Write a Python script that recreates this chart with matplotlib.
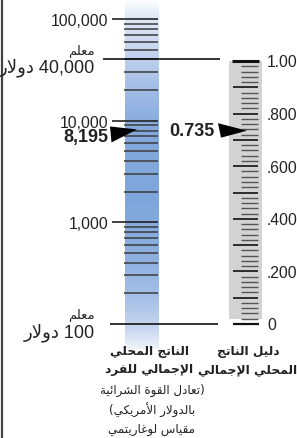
import re
import numpy as np
import matplotlib
matplotlib.use('Agg')
import matplotlib.pyplot as plt
from matplotlib.patches import Polygon
from matplotlib.colors import to_rgb

# Data
gdp_major = [1000, 10000, 100000]
gdp_major_labels = ['1,000', '10,000', '100,000']
gdp_goalposts = [100, 40000]
gdp_goalpost_labels = ['100 دولار', '40,000 دولار']
gdp_value = 8195
gdp_value_label = '8,195'
hdi_labels_at = [0.0, 0.2, 0.4, 0.6, 0.8, 1.0]
hdi_labels = ['0', '.200', '.400', '.600', '.800', '1.00']
hdi_value = 0.735
hdi_value_label = '0.735'

goalpost_word = 'معلم'
gdp_title = ['الناتج المحلي', 'الإجمالي للفرد']
gdp_subtitle = ['(تعادل القوة الشرائية', 'بالدولار الأمريكي)', 'مقياس لوغاريتمي']
hdi_title = ['دليل الناتج', 'المحلي الإجمالي']


# Arabic shaping (matplotlib has no bidi / joining)
FORMS = {'ء': [0xFE80]}
for ch, base in zip('آأؤإاةدذرزوى', [0xFE81, 0xFE83, 0xFE85, 0xFE87, 0xFE8D, 0xFE93,
                                      0xFEA9, 0xFEAB, 0xFEAD, 0xFEAF, 0xFEED, 0xFEEF]):
    FORMS[ch] = [base, base + 1]
for ch, base in zip('ئبتثجحخسشصضطظعغفقكلمنهي',
                    [0xFE89, 0xFE8F, 0xFE95, 0xFE99, 0xFE9D, 0xFEA1, 0xFEA5, 0xFEB1,
                     0xFEB5, 0xFEB9, 0xFEBD, 0xFEC1, 0xFEC5, 0xFEC9, 0xFECD, 0xFED1,
                     0xFED5, 0xFED9, 0xFEDD, 0xFEE1, 0xFEE5, 0xFEE9, 0xFEF1]):
    FORMS[ch] = [base + k for k in range(4)]
LAM_ALEF = {'آ': 0xFEF5, 'أ': 0xFEF7, 'إ': 0xFEF9, 'ا': 0xFEFB}


def shape(text):
    out = []
    link = False
    i = 0
    while i < len(text):
        c = text[i]
        nxt = text[i + 1] if i + 1 < len(text) else None
        if c not in FORMS:
            out.append(c)
            link = False
            i += 1
            continue
        if c == 'ل' and nxt in LAM_ALEF:
            out.append(chr(LAM_ALEF[nxt] + (1 if link else 0)))
            link = False
            i += 2
            continue
        f = FORMS[c]
        can_next = len(f) == 4 and nxt in FORMS
        if len(f) == 1:
            code = f[0]
        elif link and can_next:
            code = f[3]
        elif link:
            code = f[1]
        elif can_next:
            code = f[2]
        else:
            code = f[0]
        out.append(chr(code))
        link = can_next
        i += 1
    return ''.join(out)


def ar(text):
    ''' Logical arabic string -> visual string '''
    tokens = re.findall(r'[0-9.,]+|[^0-9.,]+', shape(text))
    swap = str.maketrans('()', ')(')
    vis = []
    for tok in reversed(tokens):
        if re.match(r'[0-9]', tok):
            vis.append(tok)
        else:
            vis.append(tok[::-1].translate(swap))
    return ''.join(vis)


LATIN = ['Liberation Sans', 'DejaVu Sans']
ARAB = ['DejaVu Sans']
INK = '#222222'

W, H = 297, 439
fig = plt.figure(figsize=(W / 100, H / 100), dpi=100)

# pixel axes for background things
ax0 = fig.add_axes([0, 0, 1, 1])
ax0.axis('off')

# blue gradient bar
stops_y = [0, 15, 50, 90, 130, 200, 260, 300, 330, 350]
stops_c = ['#ffffff', '#e4ebf7', '#c5d5ef', '#a2bde6', '#84a9dc', '#7fa6db',
           '#8eb0e0', '#a7c1e7', '#c8d7ef', '#f2f5fb']
ys = np.arange(0, 350)
rgb = np.array([to_rgb(c) for c in stops_c])
img = np.stack([np.interp(ys, stops_y, rgb[:, k]) for k in range(3)], axis=-1)[:, None, :]
ax0.imshow(img, extent=[125, 159, 350, 0], aspect='auto', interpolation='bilinear')
ax0.set_xlim(0, W)
ax0.set_ylim(H, 0)

# left border
ax0.plot([2, 2], [0, H], color='#444444', lw=1.6)

# log scale axes: 100 at y=325px, 100,000 at y=20px
pxd = (325 - 20) / 3.0
axg = fig.add_axes([0, 0, 1, 1])
axg.set_yscale('log')
axg.set_xlim(0, W)
axg.set_ylim(10 ** (2 - (H - 325) / pxd), 10 ** (5 + 20 / pxd))
axg.axis('off')
axg.patch.set_visible(False)

minor = [m * 10 ** e for e in (2, 3, 4) for m in range(2, 10)]
axg.hlines(minor, 124, 158, color='#3c3c3c', lw=1.1)
axg.hlines(gdp_major, 112, 158, color='#222222', lw=1.2)
axg.hlines(gdp_goalposts[1], 103, 220, color='#111111', lw=1.2)
axg.hlines(gdp_goalposts[0], 110, 218, color='#111111', lw=1.2)

# HDI linear axes: 0 at y=325px, 1 at y=62px
axh = fig.add_axes([0, 0, 1, 1])
axh.set_xlim(0, W)
axh.set_ylim(-(H - 325) / 263.0, 1 + 62 / 263.0)
axh.axis('off')
axh.patch.set_visible(False)

axh.bar(245.5, 0.98, bottom=0.02, width=33, color='#d3d3d3', lw=0)
hdi_minor = [k / 50 for k in range(1, 50) if k % 5]
axh.hlines(hdi_minor, 241, 258, color='#555555', lw=1.0)
hdi_major = [k / 10 for k in range(1, 10)]
axh.hlines(hdi_major, 233, 258, color='#111111', lw=1.2)
axh.hlines(1.0, 232, 259, color='#111111', lw=2.2)
axh.hlines(0.0, 233, 259, color='#111111', lw=1.6)

# top pixel axes for text and markers
axt = fig.add_axes([0, 0, 1, 1])
axt.set_xlim(0, W)
axt.set_ylim(H, 0)
axt.axis('off')
axt.patch.set_visible(False)


def to_px(ax, x, v):
    return axt.transData.inverted().transform(ax.transData.transform((x, v)))


# tick labels
for v, lab in zip(gdp_major, gdp_major_labels):
    x, y = to_px(axg, 108, v)
    axt.text(x, y + 1.5, lab, ha='right', va='center', fontsize=11.3, family=LATIN, color=INK)

for v, lab in zip(hdi_labels_at, hdi_labels):
    x, y = to_px(axh, 267, v)
    axt.text(x, y + 1, lab, ha='left', va='center', fontsize=11.3, family=LATIN, color=INK)

# goalposts
for v, lab in zip(gdp_goalposts, gdp_goalpost_labels):
    x, y = to_px(axg, 95, v)
    axt.text(x, y - 10, ar(goalpost_word), ha='right', va='center', fontsize=9.5, family=ARAB, color=INK)
    axt.text(x, y + 7.5, ar(lab), ha='right', va='center', fontsize=13, family=LATIN, color=INK)

# value markers
x, y = to_px(axg, 137, gdp_value)
axt.add_patch(Polygon([(x, y), (x - 27, y - 3), (x - 25.5, y + 13)], closed=True,
                      facecolor='black', edgecolor='none'))
axt.text(108, y + 7.5, gdp_value_label, ha='right', va='center', fontsize=13,
         fontweight='bold', family=LATIN, color=INK)

x, y = to_px(axh, 247, hdi_value)
axt.add_patch(Polygon([(x, y), (x - 29, y - 7.5), (x - 26, y + 7)], closed=True,
                      facecolor='black', edgecolor='none'))
axt.text(215, y, hdi_value_label, ha='right', va='center', fontsize=13,
         fontweight='bold', family=LATIN, color=INK)

# titles
for k, line in enumerate(gdp_title):
    axt.text(149, 352 + 18 * k, ar(line), ha='center', va='center', fontsize=8.8,
             fontweight='bold', family=ARAB, color=INK)
for k, line in enumerate(hdi_title):
    axt.text(248, 352 + 18 * k, ar(line), ha='center', va='center', fontsize=8.8,
             fontweight='bold', family=ARAB, color=INK)
for k, line in enumerate(gdp_subtitle):
    axt.text(152, 390 + 20 * k, ar(line), ha='center', va='center', fontsize=8.6,
             family=ARAB, color=INK)

fig.savefig('out.png', dpi=100)
